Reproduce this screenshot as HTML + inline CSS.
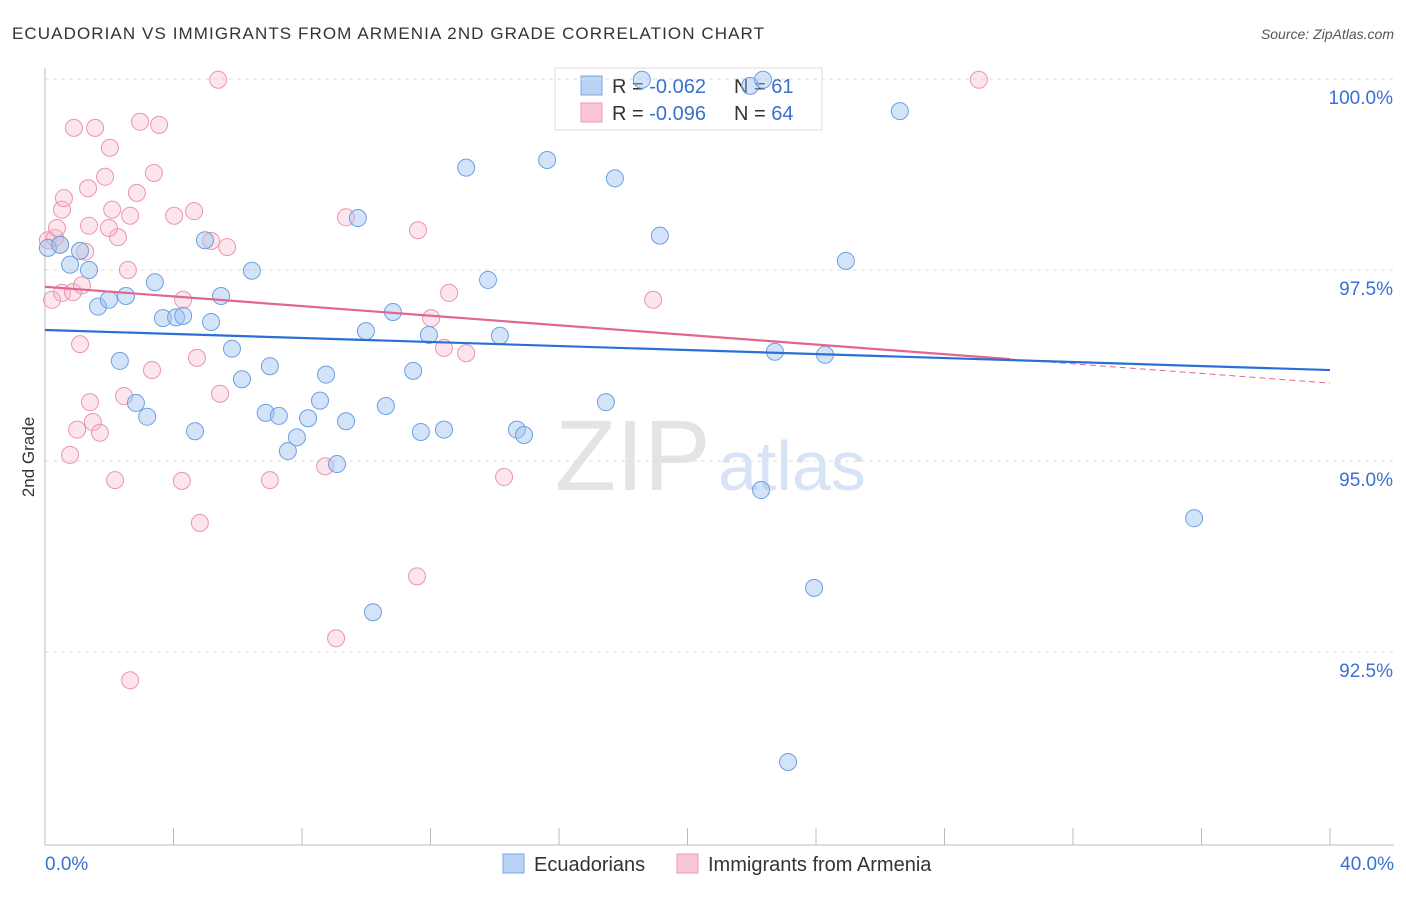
<!DOCTYPE html>
<html><head><meta charset="utf-8"><style>
body{margin:0;background:#fff;font-family:"Liberation Sans",sans-serif}
svg text{font-family:"Liberation Sans",sans-serif}
</style></head><body>
<svg id="c" width="1406" height="892">
<text x="12" y="39" font-size="17" fill="#333" textLength="752" lengthAdjust="spacing">ECUADORIAN VS IMMIGRANTS FROM ARMENIA 2ND GRADE CORRELATION CHART</text>
<text x="1394" y="39" font-size="14" fill="#555" text-anchor="end" font-style="italic">Source: ZipAtlas.com</text>
<text x="34" y="457" font-size="17" fill="#333" text-anchor="middle" transform="rotate(-90 34 457)">2nd Grade</text>
<text x="555" y="490" font-size="100" fill="#e4e4e4" font-family="Liberation Serif">ZIP</text>
<text x="718" y="490" font-size="70" fill="#d6e4f5">atlas</text>
<g>
<rect x="555" y="68" width="267" height="62" fill="#fff" stroke="#ddd"/>
<rect x="581" y="76" width="21" height="19" fill="#b8d3f5" stroke="#7aaae6"/>
<rect x="581" y="103" width="21" height="19" fill="#f9c6d5" stroke="#ec9ab4"/>
<text x="612" y="93" font-size="20" fill="#333">R = <tspan fill="#3a70d0">-0.062</tspan></text>
<text x="734" y="93" font-size="20" fill="#333">N = <tspan fill="#3a70d0"> 61</tspan></text>
<text x="612" y="120" font-size="20" fill="#333">R = <tspan fill="#3a70d0">-0.096</tspan></text>
<text x="734" y="120" font-size="20" fill="#333">N = <tspan fill="#3a70d0">64</tspan></text>
</g>
<g id="axes"></g><g id="marks"></g>
<g>
<rect x="503" y="854" width="21" height="19" fill="#b8d3f5" stroke="#7aaae6"/>
<text x="534" y="871" font-size="20" fill="#333">Ecuadorians</text>
<rect x="677" y="854" width="21" height="19" fill="#f9c6d5" stroke="#ec9ab4"/>
<text x="708" y="871" font-size="20" fill="#333">Immigrants from Armenia</text>
</g>
</svg>
<script>
const blueX=[0.09,0.47,0.78,1.09,1.37,1.65,1.99,2.52,2.33,2.83,3.18,3.42,3.67,4.08,4.30,4.67,4.98,5.17,5.48,5.82,6.13,6.44,6.87,7.00,7.28,7.56,7.84,8.19,8.56,8.75,9.09,9.37,9.74,9.99,10.21,10.61,10.83,11.46,11.70,11.95,12.42,13.11,13.79,14.16,14.69,14.91,15.63,17.46,17.74,18.58,19.14,21.95,22.29,22.35,22.72,23.13,23.94,24.28,24.93,26.61,35.77];
const blueY=[97.79,97.83,97.57,97.75,97.50,97.02,97.11,97.16,96.31,95.76,95.58,97.34,96.87,96.88,96.90,95.39,97.89,96.82,97.16,96.47,96.07,97.49,95.63,96.24,95.59,95.13,95.31,95.56,95.79,96.13,94.96,95.52,98.18,96.70,93.02,95.72,96.95,96.18,95.38,96.65,95.41,98.84,97.37,96.64,95.41,95.34,98.94,95.77,98.70,99.99,97.95,99.91,94.62,99.99,96.43,91.06,93.34,96.39,97.62,99.58,94.25];
const pinkX=[0.09,0.22,0.31,0.37,0.47,0.53,0.59,0.53,0.78,0.87,0.90,1.00,1.09,1.15,1.25,1.34,1.40,1.37,1.49,1.56,1.71,1.87,2.02,2.09,2.18,2.27,1.99,2.46,2.58,2.65,2.65,2.86,2.96,3.33,3.39,3.55,4.02,4.26,4.30,4.64,4.73,4.82,5.17,5.39,5.45,5.67,7.00,8.72,9.06,9.37,11.58,11.61,12.02,12.42,12.58,13.11,14.29,18.93,29.07];
const pinkY=[97.89,97.11,97.92,98.05,97.83,98.29,98.44,97.20,95.08,97.21,99.36,95.41,96.53,97.30,97.74,98.57,95.77,98.08,95.51,99.36,95.37,98.72,99.10,98.29,94.75,97.93,98.05,95.85,97.50,98.21,92.13,98.51,99.44,96.19,98.77,99.40,98.21,94.74,97.11,98.27,96.35,94.19,97.88,99.99,95.88,97.80,94.75,94.93,92.68,98.19,93.49,98.02,96.87,96.48,97.20,96.41,94.79,97.11,99.99];
const yTicks=[100,97.5,95,92.5];
const yTickLabels=["100.0%","97.5%","95.0%","92.5%"];
const xTicks=[0,4,8,12,16,20,24,28,32,36,40];
const blueTrend=[96.715,96.19];
const pinkTrend=[97.28,96.02];
const pinkSolidEnd=30.04;

const NS="http://www.w3.org/2000/svg";
const sx=v=>45+v/40*1285;
const sy=v=>79+(100-v)*76.4;
function mk(t,a,p){const e=document.createElementNS(NS,t);for(const k in a)e.setAttribute(k,a[k]);p.appendChild(e);return e;}
const ax=document.getElementById('axes'),mg=document.getElementById('marks');
yTicks.forEach((v,i)=>{
 const l=mk('line',{x1:45,x2:1394,y1:sy(v),y2:sy(v),stroke:'#ddd','stroke-dasharray':'4,4'},ax);
 
 
 const t=mk('text',{x:1393,y:sy(v)+25,'font-size':19,fill:'#3a70d0','text-anchor':'end'},ax);t.textContent=yTickLabels[i];
 
 
});
const yl=mk('line',{x1:45,x2:45,y1:68,y2:845,stroke:'#bbb'},ax);


const xl=mk('line',{x1:45,x2:1394,y1:845,y2:845,stroke:'#bbb'},ax);


xTicks.forEach(v=>{const l=mk('line',{x1:sx(v),x2:sx(v),y1:828,y2:845,stroke:'#bbb'},ax);
 
 });
const t0=mk('text',{x:45,y:870,'font-size':19,fill:'#3a70d0'},ax);t0.textContent='0.0%';


const t1=mk('text',{x:1394,y:870,'font-size':19,fill:'#3a70d0','text-anchor':'end'},ax);t1.textContent='40.0%';


pinkX.forEach((x,i)=>{const c=mk('circle',{cx:sx(x),cy:sy(pinkY[i]),r:8.5,fill:'rgba(246,180,200,0.35)',stroke:'#eb95b0','stroke-width':1},mg);
 
 });
blueX.forEach((x,i)=>{const c=mk('circle',{cx:sx(x),cy:sy(blueY[i]),r:8.5,fill:'rgba(160,195,240,0.45)',stroke:'#6c9fe2','stroke-width':1},mg);
 
 });
const pv=x=>pinkTrend[0]+(pinkTrend[1]-pinkTrend[0])*x/40;
const pl=mk('line',{x1:sx(0),y1:sy(pinkTrend[0]),x2:sx(pinkSolidEnd),y2:sy(pv(pinkSolidEnd)),stroke:'#e26690','stroke-width':2.2},mg);


const pd=mk('line',{x1:sx(pinkSolidEnd),y1:sy(pv(pinkSolidEnd)),x2:sx(40),y2:sy(pinkTrend[1]),stroke:'#e26690','stroke-width':1,'stroke-dasharray':'6,4'},mg);


const bl=mk('line',{x1:sx(0),y1:sy(blueTrend[0]),x2:sx(40),y2:sy(blueTrend[1]),stroke:'#2a6fd6','stroke-width':2.2},mg);


</script>
</body></html>
